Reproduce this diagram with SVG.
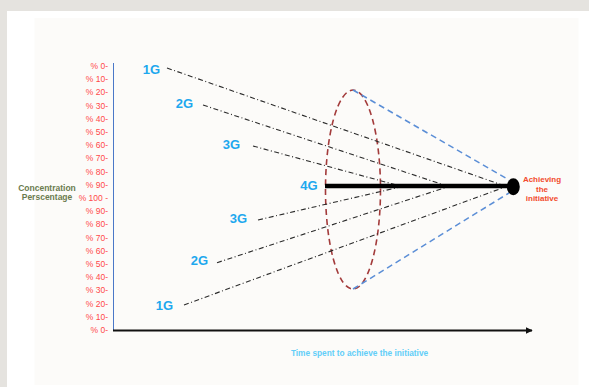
<svg xmlns="http://www.w3.org/2000/svg" width="589" height="387" viewBox="0 0 589 387">
<style>
.ylab{font-family:"Liberation Sans",Arial,sans-serif;font-size:8.5px;fill:#ff4a4a;text-anchor:end}
.gl{font-family:"Liberation Sans",Arial,sans-serif;font-size:13px;font-weight:bold;fill:#1ea8ee;text-anchor:middle}
.dd{fill:none;stroke:#2b2b2b;stroke-width:1.1;stroke-dasharray:5 2.5 1 2.5}
.bl{fill:none;stroke:#5b8ed6;stroke-width:1.5;stroke-dasharray:6 4}
</style>
<defs>
<marker id="arr" viewBox="0 0 10 10" refX="9" refY="5" markerWidth="3.5" markerHeight="3.5" orient="auto" markerUnits="strokeWidth">
<path d="M0,0 L10,5 L0,10 z" fill="#111"/>
</marker>
</defs>
<rect width="589" height="387" fill="#e5e3df"/>
<rect x="7" y="11" width="582" height="376" fill="#ffffff"/>
<rect x="34.5" y="18" width="544" height="367" fill="#fcfbf9"/>

<g id="axes">
<line x1="113.5" y1="63" x2="113.5" y2="330" stroke="#4a78c8" stroke-width="1"/>
<line x1="113" y1="330.5" x2="532" y2="330.5" stroke="#111" stroke-width="2" marker-end="url(#arr)"/>
</g>

<g id="y-labels">
<text class="ylab" x="108" y="69">% 0-</text>
<text class="ylab" x="108" y="82.2">% 10-</text>
<text class="ylab" x="108" y="95.4">% 20-</text>
<text class="ylab" x="108" y="108.6">% 30-</text>
<text class="ylab" x="108" y="121.8">% 40-</text>
<text class="ylab" x="108" y="135">% 50-</text>
<text class="ylab" x="108" y="148.2">% 60-</text>
<text class="ylab" x="108" y="161.4">% 70-</text>
<text class="ylab" x="108" y="174.6">% 80-</text>
<text class="ylab" x="108" y="187.8">% 90-</text>
<text class="ylab" x="108" y="201">% 100 -</text>
<text class="ylab" x="108" y="214.2">% 90-</text>
<text class="ylab" x="108" y="227.4">% 80-</text>
<text class="ylab" x="108" y="240.6">% 70-</text>
<text class="ylab" x="108" y="253.8">% 60-</text>
<text class="ylab" x="108" y="267">% 50-</text>
<text class="ylab" x="108" y="280.2">% 40-</text>
<text class="ylab" x="108" y="293.4">% 30-</text>
<text class="ylab" x="108" y="306.6">% 20-</text>
<text class="ylab" x="108" y="319.8">% 10-</text>
<text class="ylab" x="108" y="333">% 0-</text>
</g>

<g id="y-title" font-family="'Liberation Sans',Arial,sans-serif" font-size="8.5" font-weight="bold" fill="#6b7b4f" text-anchor="middle">
<text x="47" y="190.7">Concentration</text>
<text x="47" y="200.3">Perscentage</text>
</g>

<g id="cone">
<ellipse cx="353" cy="189.5" rx="27.5" ry="99.5" fill="none" stroke="#a33b3b" stroke-width="1.6" stroke-dasharray="6 4"/>
<line class="bl" x1="353" y1="90" x2="509" y2="180"/>
<line class="bl" x1="353" y1="289" x2="509" y2="193"/>
</g>

<g id="connectors">
<line class="dd" x1="167" y1="68" x2="505" y2="186"/>
<line class="dd" x1="203" y1="105" x2="447" y2="186"/>
<line class="dd" x1="253" y1="146" x2="400" y2="186"/>
<line class="dd" x1="258" y1="220" x2="400" y2="187"/>
<line class="dd" x1="217" y1="262.7" x2="447" y2="187"/>
<line class="dd" x1="184" y1="305" x2="505" y2="187"/>
<line x1="325" y1="186" x2="508" y2="186" stroke="#000" stroke-width="4.5"/>
</g>

<g id="g-labels">
<text class="gl" x="151.5" y="73.6">1G</text>
<text class="gl" x="184.5" y="107.6">2G</text>
<text class="gl" x="231.5" y="148.6">3G</text>
<text class="gl" x="309" y="190.1">4G</text>
<text class="gl" x="238.5" y="222.6">3G</text>
<text class="gl" x="199.5" y="265.3">2G</text>
<text class="gl" x="164.5" y="309.6">1G</text>
</g>

<g id="goal">
<ellipse cx="513.3" cy="186.7" rx="6.5" ry="8.5" fill="#000"/>
<g font-family="'Liberation Sans',Arial,sans-serif" font-size="8" font-weight="bold" fill="#f24a2c" text-anchor="middle">
<text x="542" y="182">Achieving</text>
<text x="542" y="191.7">the</text>
<text x="542" y="201">initiative</text>
</g>
</g>

<g id="x-title">
<text x="359.5" y="355.7" font-family="'Liberation Sans',Arial,sans-serif" font-size="8.3" font-weight="bold" fill="#62cef8" text-anchor="middle">Time spent to achieve the initiative</text>
</g>
</svg>
